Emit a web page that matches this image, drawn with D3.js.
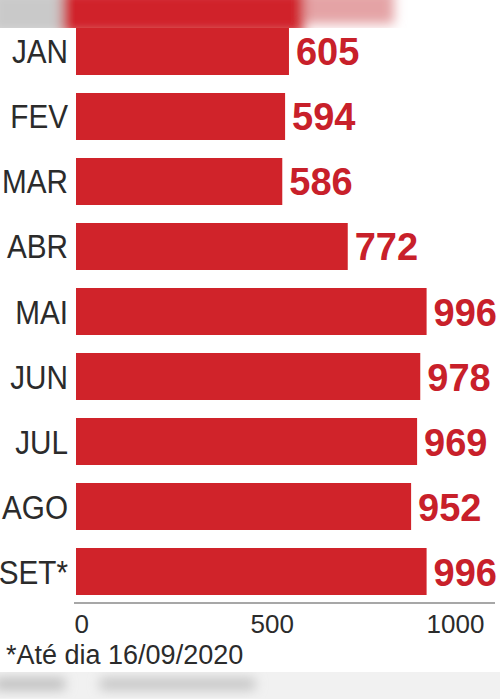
<!DOCTYPE html>
<html>
<head>
<meta charset="UTF-8">
<title>Casos por mês</title>
<script src="https://d3js.org/d3.v7.min.js"></script>
<style>
  html, body { margin: 0; padding: 0; background: #fff; }
  svg { display: block; }
</style>
</head>
<body>
<div id="chart"></div>
<script>
// data
var months = ["JAN", "FEV", "MAR", "ABR", "MAI", "JUN", "JUL", "AGO", "SET*"];
var values = [605, 594, 586, 772, 996, 978, 969, 952, 996];
var tickValues = [0, 500, 1000];
var footnote = "*Até dia 16/09/2020";

var width = 500, height = 699;
var barColor = "#d0232a", valueColor = "#c8202a", inkColor = "#2b2b2b";

var svg = d3.select("#chart").append("svg")
  .attr("width", width)
  .attr("height", height);

// blurred bits of the surrounding page (photo crop)
var defs = svg.append("defs");
defs.append("filter").attr("id", "blur")
  .attr("x", "-20%").attr("y", "-60%").attr("width", "140%").attr("height", "220%")
  .append("feGaussianBlur").attr("stdDeviation", 6);

var deco = svg.append("g").attr("filter", "url(#blur)");
deco.append("rect").attr("x", -10).attr("y", -10).attr("width", 75).attr("height", 44).attr("fill", "#c9c9c9");
deco.append("rect").attr("x", 62).attr("y", -10).attr("width", 242).attr("height", 44).attr("fill", barColor);
deco.append("rect").attr("x", 304).attr("y", -10).attr("width", 90).attr("height", 34).attr("fill", "#e4a3a5");
svg.append("rect").attr("x", 0).attr("y", 672).attr("width", width).attr("height", 30).attr("fill", "#f1f1f1");
var deco2 = svg.append("g").attr("filter", "url(#blur)");
deco2.append("rect").attr("x", -5).attr("y", 678).attr("width", 70).attr("height", 12).attr("fill", "#bdbdbd");
deco2.append("rect").attr("x", 100).attr("y", 678).attr("width", 155).attr("height", 12).attr("fill", "#c4c4c4");
svg.append("rect").attr("x", 0).attr("y", 28).attr("width", width).attr("height", 644).attr("fill", "#fff");

// scales
var x = d3.scaleLinear().domain([0, 1000]).range([76, 428]);
var y = d3.scaleBand().domain(months).range([28, 595]).paddingInner(0.277).paddingOuter(0);

// bars
svg.selectAll(".bar")
  .data(months)
  .enter().append("rect")
  .attr("class", "bar")
  .attr("x", x(0))
  .attr("y", function(d) { return y(d); })
  .attr("width", function(d, i) { return x(values[i]) - x(0); })
  .attr("height", y.bandwidth())
  .attr("fill", barColor);

// month labels
svg.selectAll(".label")
  .data(months)
  .enter().append("text")
  .attr("class", "label")
  .attr("transform", function(d) {
    return "translate(68," + (y(d) + y.bandwidth() / 2 + 12) + ") scale(0.9,1)";
  })
  .attr("text-anchor", "end")
  .style("font-family", "'Liberation Sans', Arial, sans-serif")
  .style("font-size", "33px")
  .attr("fill", inkColor)
  .text(function(d) { return d; });

// value labels
svg.selectAll(".value")
  .data(months)
  .enter().append("text")
  .attr("class", "value")
  .attr("x", function(d, i) { return x(values[i]) + 7; })
  .attr("y", function(d) { return y(d) + y.bandwidth() / 2 + 14; })
  .style("font-family", "'Liberation Sans', Arial, sans-serif")
  .style("font-size", "38px")
  .style("font-weight", "bold")
  .attr("fill", valueColor)
  .text(function(d, i) { return values[i]; });

// axis
var axis = svg.append("g")
  .attr("transform", "translate(0,603)")
  .call(d3.axisBottom(x).tickValues(tickValues).tickSize(0).tickPadding(30).tickFormat(d3.format("d")));
axis.select(".domain").remove();
axis.append("line")
  .attr("x1", 74).attr("x2", 495)
  .attr("stroke", "#8a8a8a").attr("stroke-width", 1.5);
axis.selectAll("text")
  .attr("text-anchor", "start")
  .attr("dx", -2)
  .attr("dy", 0)
  .attr("fill", inkColor)
  .style("font-family", "'Liberation Sans', Arial, sans-serif")
  .style("font-size", "26px");

// footnote
svg.append("text")
  .attr("x", 6)
  .attr("y", 664)
  .attr("fill", inkColor)
  .style("font-family", "'Liberation Sans', Arial, sans-serif")
  .style("font-size", "27px")
  .text(footnote);
</script>
</body>
</html>
